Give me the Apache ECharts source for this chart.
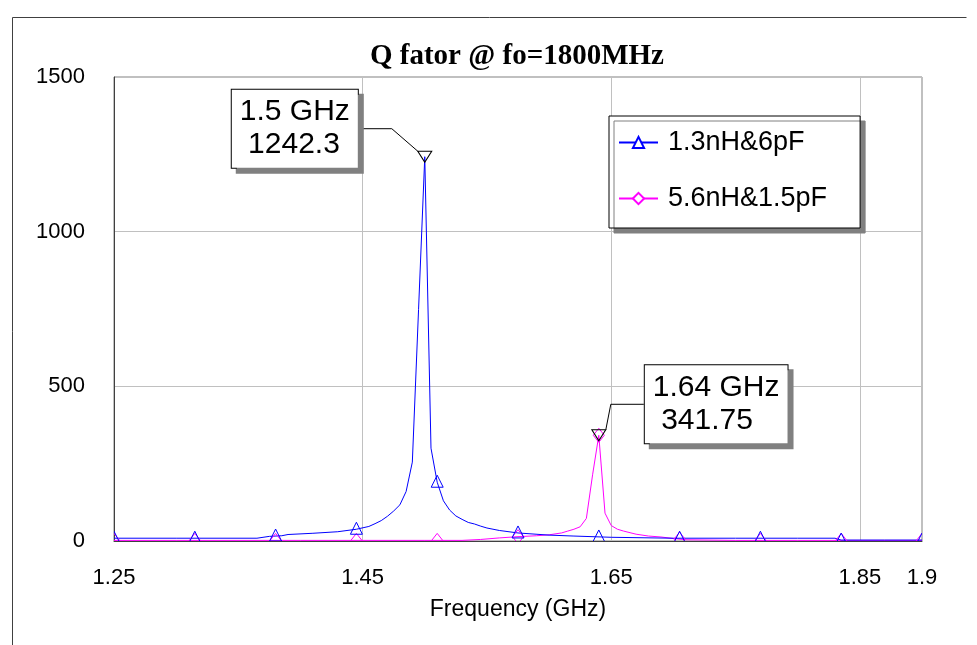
<!DOCTYPE html>
<html><head><meta charset="utf-8">
<script src="https://cdn.jsdelivr.net/npm/echarts@6/dist/echarts.min.js"></script>
<style>html,body{margin:0;padding:0;background:#fff}#c{width:977px;height:645px}</style>
</head><body><div id="c"></div>
<script>
// ---- data ----
const titleText = 'Q fator @ fo=1800MHz';
const xAxisName = 'Frequency (GHz)';
const xTickValues = [1.25, 1.45, 1.65, 1.85, 1.9];
const seriesNames = ['1.3nH&6pF', '5.6nH&1.5pF'];

const blueFreq = [1.25, 1.30, 1.365, 1.375, 1.385, 1.39, 1.41, 1.43, 1.445, 1.455, 1.46, 1.465, 1.47, 1.475, 1.48, 1.485, 1.49, 1.495, 1.5, 1.505, 1.51, 1.515, 1.52, 1.525, 1.53, 1.535, 1.54, 1.545, 1.55, 1.56, 1.575, 1.6, 1.62, 1.65, 1.7, 1.75, 1.8, 1.83, 1.835, 1.87, 1.9];
const blueQ    = [9, 9, 9, 15, 17, 21, 25, 30, 38, 47, 56, 66, 80, 97, 117, 160, 255, 748, 1242.3, 300, 190, 130, 100, 81, 70, 60, 55, 48, 42, 34, 26, 19, 16, 12, 9, 9, 9, 9, 3, 3, 3];

const magFreq = [1.25, 1.3, 1.4, 1.5, 1.53, 1.545, 1.56, 1.575, 1.59, 1.6, 1.61, 1.615, 1.62, 1.625, 1.63, 1.635, 1.64, 1.645, 1.65, 1.655, 1.66, 1.67, 1.68, 1.69, 1.7, 1.71, 1.75, 1.8, 1.85, 1.9];
const magQ    = [2, 2, 2, 2, 2, 5, 10, 14, 17, 20, 26, 32, 38, 46, 73, 214, 341.75, 90, 50, 38, 32, 22, 16, 13, 8, 4, 2, 2, 2, 2];

const markerFreq   = [1.25, 1.315, 1.38, 1.445, 1.51, 1.575, 1.64, 1.705, 1.77, 1.835, 1.9];
const blueMarkerQ  = [9, 9, 16, 38, 190, 26, 13, 9, 9, 3, 3];
const magMarkerQ   = [2, 2, 2, 2, 2, 14, 341.75, 6, 2, 2, 2];

const peakFreq = [1.5, 1.64];
const peakQ    = [1242.3, 341.75];

// ---- helpers ----
const zip = (a, b) => a.map((v, i) => [v, b[i]]);
const SANS = 'Liberation Sans';
const BLUE = '#0000ff', MAG = '#ff00ff';

function markerSeries(freq, q, shape, color) {
  return {
    type: 'custom', clip: true, silent: true, z: 4,
    data: zip(freq, q),
    encode: { x: 0, y: 1 },
    renderItem: function (params, api) {
      const p = api.coord([api.value(0), api.value(1)]);
      let pts;
      if (shape === 'tri') {
        pts = [[p[0], p[1] - 7], [p[0] + 6, p[1] + 5], [p[0] - 6, p[1] + 5]];
      } else {
        pts = [[p[0], p[1] - 7], [p[0] + 5.5, p[1]], [p[0], p[1] + 7], [p[0] - 5.5, p[1]]];
      }
      return { type: 'polygon', shape: { points: pts }, style: { fill: 'none', stroke: color, lineWidth: 1 } };
    }
  };
}

const chart = echarts.init(document.getElementById('c'), null, { renderer: 'canvas' });
chart.setOption({
  animation: false,
  backgroundColor: '#fff',
  title: {
    text: titleText, left: 370, top: 42, padding: 0,
    textStyle: { fontFamily: 'Liberation Serif', fontWeight: 'bold', fontSize: 29, color: '#000' }
  },
  graphic: [{
    type: 'polyline', silent: true, z: -1,
    shape: { points: [[12.5, 645], [12.5, 17.5], [966.5, 17.5]] },
    style: { stroke: '#404040', lineWidth: 1, fill: 'none' }
  }],
  legend: {
    data: seriesNames, orient: 'vertical', left: 609, top: 116,
    padding: [13, 33, 16, 9], itemGap: 29, itemWidth: 39, itemHeight: 14,
    textStyle: { fontSize: 27, fontFamily: SANS, color: '#000', padding: [0, 0, 0, 5] },
    backgroundColor: '#fff', borderColor: '#000', borderWidth: 1,
    shadowColor: '#808080', shadowOffsetX: 5, shadowOffsetY: 5, shadowBlur: 0,
    itemStyle: { borderWidth: 1 },
    selectedMode: false
  },
  grid: { left: 114, right: 55, top: 77, bottom: 104, show: true, borderColor: '#808080', borderWidth: 1, containLabel: false },
  xAxis: {
    type: 'value', min: 1.25, max: 1.9,
    name: xAxisName, nameLocation: 'middle', nameGap: 57,
    nameTextStyle: { fontSize: 23, fontFamily: SANS, color: '#000' },
    axisLine: { show: true, lineStyle: { color: '#404040', width: 1 } },
    axisTick: { show: false, customValues: xTickValues },
    axisLabel: { customValues: xTickValues, fontSize: 22, fontFamily: SANS, color: '#000', margin: 26, formatter: v => String(v) },
    splitLine: { show: true, lineStyle: { color: '#c0c0c0', width: 1 } }
  },
  yAxis: {
    type: 'value', min: 0, max: 1500, interval: 500,
    axisLine: { show: true, lineStyle: { color: '#404040', width: 1 } },
    axisTick: { show: false },
    axisLabel: { fontSize: 22, fontFamily: SANS, color: '#000', margin: 29, formatter: v => String(v) },
    splitLine: { show: true, lineStyle: { color: '#c0c0c0', width: 1 } }
  },
  series: [
    {
      name: seriesNames[1], type: 'line', data: zip(magFreq, magQ),
      showSymbol: false, symbol: 'emptyDiamond', symbolSize: 12,
      lineStyle: { color: MAG, width: 1 }, itemStyle: { color: MAG }, z: 2
    },
    {
      name: seriesNames[0], type: 'line', data: zip(blueFreq, blueQ),
      showSymbol: false, symbol: 'emptyTriangle', symbolSize: 12,
      lineStyle: { color: BLUE, width: 1 }, itemStyle: { color: BLUE }, z: 3
    },
    markerSeries(markerFreq, magMarkerQ, 'dia', MAG),
    markerSeries(markerFreq, blueMarkerQ, 'tri', BLUE),
    {
      type: 'scatter', z: 6, silent: true,
      data: zip(peakFreq, peakQ),
      symbol: 'triangle', symbolRotate: 180, symbolSize: [14, 11],
      itemStyle: { color: 'rgba(0,0,0,0)', borderColor: '#000', borderWidth: 1, opacity: 1 },
      label: {
        show: true, position: 'inside', align: 'left', verticalAlign: 'middle',
        formatter: p => p.value[0] + ' GHz\n ' + p.value[1],
        fontSize: 30, lineHeight: 33, fontFamily: SANS, color: '#000', opacity: 1,
        backgroundColor: '#fff', borderColor: '#000', borderWidth: 1, padding: [6, 8],
        shadowColor: '#808080', shadowOffsetX: 5, shadowOffsetY: 5, shadowBlur: 0
      },
      labelLine: { show: true, length2: 33, smooth: false, lineStyle: { color: '#000', width: 1, opacity: 1 } },
      labelLayout: p => p.dataIndex === 0 ? { dx: -193, dy: -28 } : { dx: 46, dy: -31 }
    }
  ]
});
</script>
</body></html>
